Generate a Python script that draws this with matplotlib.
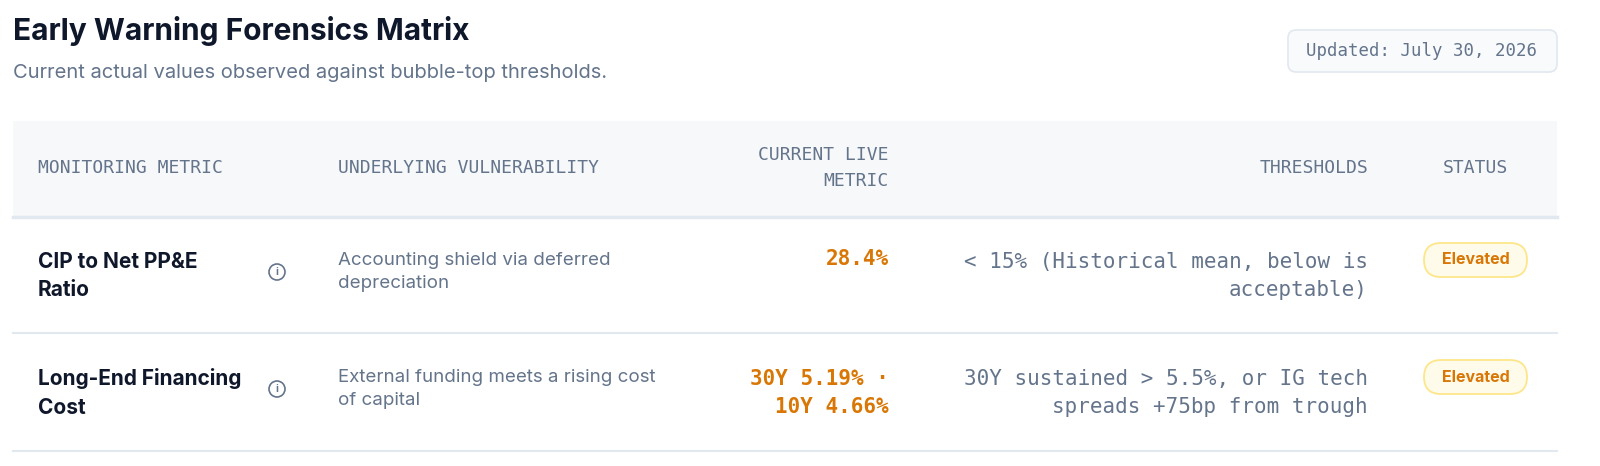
import matplotlib
matplotlib.use("Agg")
import matplotlib.pyplot as plt
from matplotlib.patches import FancyBboxPatch, Rectangle, Circle

title = "Early Warning Forensics Matrix"
subtitle = "Current actual values observed against bubble-top thresholds."
updated = "Updated: July 30, 2026"
headers = ["MONITORING METRIC", "UNDERLYING VULNERABILITY", "CURRENT LIVE\nMETRIC", "THRESHOLDS", "STATUS"]
metrics = ["CIP to Net PP&E\nRatio", "Long-End Financing\nCost"]
vulns = ["Accounting shield via deferred\ndepreciation", "External funding meets a rising cost\nof capital"]
values = ["28.4%", "30Y 5.19% ·\n10Y 4.66%"]
thresholds = ["< 15% (Historical mean, below is\nacceptable)", "30Y sustained > 5.5%, or IG tech\nspreads +75bp from trough"]
statuses = ["Elevated", "Elevated"]

SANS = ["Inter", "DejaVu Sans"]
MONO = ["DejaVu Sans Mono"]
DARK = "#0f172a"; SLATE = "#64748b"; ORANGE = "#d97706"

fig = plt.figure(figsize=(16, 4.66), dpi=100)
ax = fig.add_axes([0, 0, 1, 1])
ax.set_xlim(0, 1600); ax.set_ylim(466, 0); ax.axis("off")

ax.text(13, 31, title, fontsize=21.5, fontweight="bold", color=DARK, family=SANS, va="center")
ax.text(13, 73, subtitle, fontsize=14.5, color=SLATE, family=SANS, va="center")
ax.add_patch(FancyBboxPatch((1288, 30), 269, 42, boxstyle="round,pad=0,rounding_size=8",
                            fc="#f8fafc", ec="#e2e8f0", lw=1.2))
ax.text(1422, 51, updated, fontsize=12.5, color=SLATE, family=MONO, ha="center", va="center")

ax.add_patch(Rectangle((13, 121), 1544, 95, fc="#f6f8fa", ec="none"))
ax.plot([13, 1557], [217, 217], color="#e2e8f0", lw=2.5)
hy = 168
hs = 13
ax.text(38, hy, headers[0], fontsize=hs, color=SLATE, family=MONO, va="center")
ax.text(338, hy, headers[1], fontsize=hs, color=SLATE, family=MONO, va="center")
ax.text(889, hy, headers[2], fontsize=hs, color=SLATE, family=MONO, va="center", ha="right", linespacing=1.6)
ax.text(1368, hy, headers[3], fontsize=hs, color=SLATE, family=MONO, va="center", ha="right")
ax.text(1475, hy, headers[4], fontsize=hs, color=SLATE, family=MONO, va="center", ha="center")

row_c = [276, 393]
row_b = [333, 451]
for i in range(len(metrics)):
    y = row_c[i]
    ax.text(38, y, metrics[i], fontsize=15, fontweight="bold", color=DARK, family=SANS, va="center", linespacing=1.55)
    ax.add_patch(Circle((277, y - 4), 8, fc="white", ec=SLATE, lw=1.2))
    ax.text(277, y - 4, "i", fontsize=7.5, color=SLATE, family=SANS, ha="center", va="center", fontweight="bold")
    ax.text(338, y - 4, vulns[i], fontsize=13.5, color=SLATE, family=SANS, va="center", linespacing=1.5)
    vy = y - 17 if "\n" not in values[i] else y
    ax.text(889, vy, values[i], fontsize=15, fontweight="bold", color=ORANGE, family=MONO, va="center", ha="right", linespacing=1.45)
    ax.text(1368, y, thresholds[i], fontsize=15, color=SLATE, family=MONO, va="center", ha="right", linespacing=1.45)
    ax.add_patch(FancyBboxPatch((1424, y - 33), 103, 34, boxstyle="round,pad=0,rounding_size=17",
                                fc="#fffbeb", ec="#fde68a", lw=1.3))
    ax.text(1475.5, y - 16, statuses[i], fontsize=11.5, fontweight="bold", color=ORANGE, family=SANS, ha="center", va="center")
    ax.plot([13, 1557], [row_b[i], row_b[i]], color="#e2e8f0", lw=1.5)

fig.savefig("out.png", dpi=100, facecolor="white")
